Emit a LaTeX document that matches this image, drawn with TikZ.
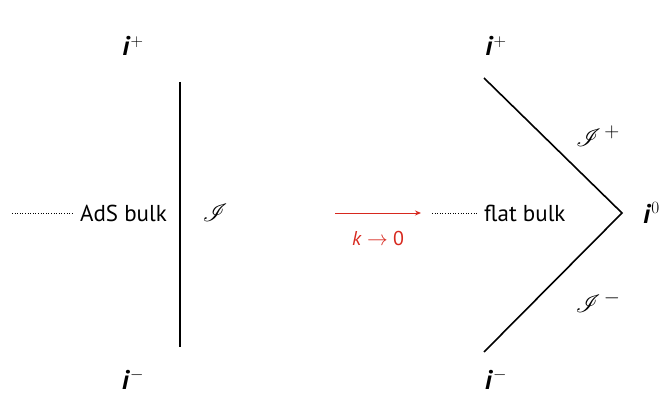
\documentclass[tikz,border=0pt]{standalone}
\usepackage{fontspec}
\setmainfont{PT Sans}
\usepackage{mathrsfs}
\usepackage{tikz}
\usetikzlibrary{arrows.meta,positioning}
\definecolor{kRed}{RGB}{215,40,30}

\begin{document}
\begin{tikzpicture}[x=1pt,y=-1pt,font=\fontsize{23}{26}\selectfont,
  pt/.style={inner sep=0pt,anchor=base,font=\fontsize{27}{30}\selectfont},
  scri/.style={inner sep=0pt,font=\fontsize{29}{32}\selectfont},
  bnd/.style={line width=1.6pt},
  dots/.style={dotted,line width=0.6pt}]
  \useasboundingbox (0,0) rectangle (665,396);
  % AdS side
  \coordinate (at) at (180,82);
  \coordinate (ab) at (180,347);
  \draw[bnd] (at) -- (ab);
  \node[pt] (aip) at (133,56) {\textbf{\textit{i}}$^{+}$};
  \node[pt] (aim) at (133,389) {\textbf{\textit{i}}$^{-}$};
  \node[anchor=east,inner sep=0pt] (ads) at (167,213) {AdS bulk};
  \coordinate (ad) at (12,213);
  \draw[dots] (ad) -- ([xshift=-7pt]ads.west);
  \node[scri] (ascri) at (215,213) {$\mathscr{I}$};
  % limit
  \coordinate (ka) at (335,213);
  \coordinate (kb) at (421,213);
  \draw[kRed,line width=1pt,-{Stealth[length=6pt,width=5pt]}] (ka) -- (kb);
  \node[kRed,font=\fontsize{20}{24}\selectfont] (lim) at (378,238) {\textit{k} $\to$ 0};
  % flat side
  \coordinate (ft) at (484,78);
  \coordinate (fv) at (622,213);
  \coordinate (fb) at (484,352);
  \draw[bnd] (ft) -- (fv) -- (fb);
  \node[pt] (fip) at (496,56) {\textbf{\textit{i}}$^{+}$};
  \node[pt] (fim) at (496,389) {\textbf{\textit{i}}$^{-}$};
  \node[pt,anchor=base west] (fi0) at (643,223) {\textbf{\textit{i}}$^{0}$};
  \node[anchor=west,inner sep=0pt] (flat) at (484,213) {flat bulk};
  \coordinate (fd) at (432,213);
  \draw[dots] (fd) -- ([xshift=-7pt]flat.west);
  \node[scri] (fsp) at (598,136) {$\mathscr{I}^{\,+}$};
  \node[scri] (fsm) at (598,302) {$\mathscr{I}^{\,-}$};
\end{tikzpicture}
\end{document}
